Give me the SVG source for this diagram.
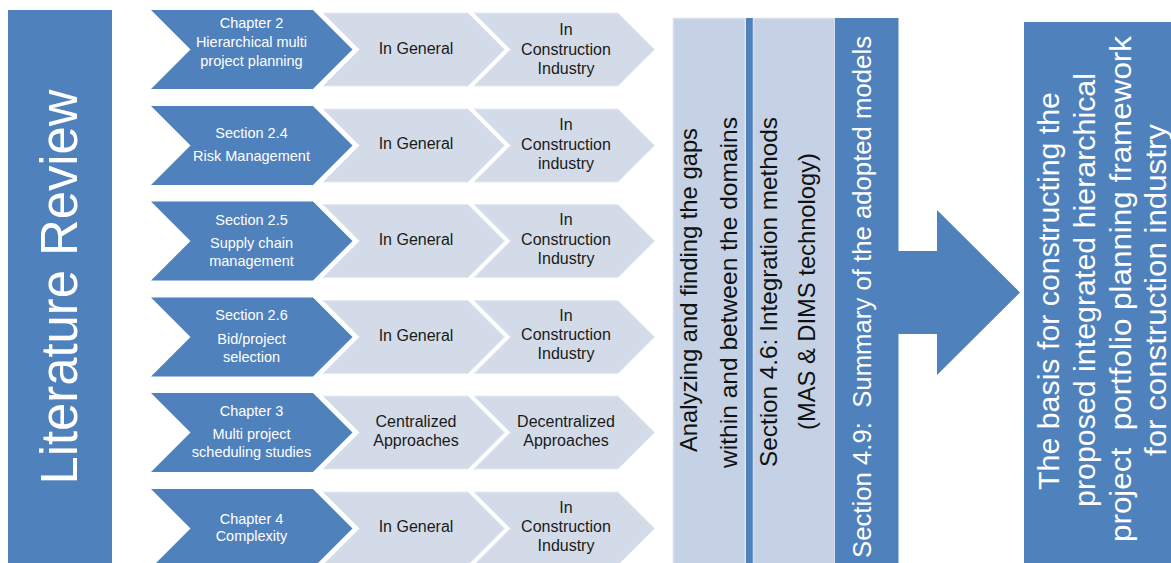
<svg xmlns="http://www.w3.org/2000/svg" xmlns:xlink="http://www.w3.org/1999/xlink" width="1171" height="563" viewBox="0 0 1171 563">
<style>
.blue{fill:#4F81BD}
.lite{fill:#D4DBE8;stroke:#E6EBF3;stroke-width:1}
.col{fill:#C5D1E4;stroke:#D6DEEB;stroke-width:1.5}
text{font-family:"Liberation Sans",Arial,sans-serif;text-anchor:middle}
.wt{fill:#FFFFFF;font-size:14.5px}
.dk{fill:#1A1A1A;font-size:16px}
.vt{fill:#111111;font-size:24px}
.vw{fill:#FFFFFF}
</style>
<defs>
<polygon id="chevB" points="151,0 313,0 352.5,39.5 313,79 151,79 190.5,39.5"/>
<polygon id="chevL1" points="323,3 468,3 504.5,39.5 468,76 323,76 359.5,39.5"/>
<polygon id="chevL2" points="474,3 618,3 654.5,39.5 618,76 474,76 510.5,39.5"/>
</defs>
<rect width="1171" height="563" fill="#FFFFFF"/>

<g id="literature-review">
<rect class="blue" x="8" y="10" width="104" height="560"/>
<text class="vw" font-size="51" transform="translate(77,287) rotate(-90)" textLength="395" lengthAdjust="spacingAndGlyphs">Literature Review</text>
</g>

<g id="row1">
<use xlink:href="#chevB" class="blue" transform="translate(0,10)"/>
<use xlink:href="#chevL1" class="lite" transform="translate(0,10)"/>
<use xlink:href="#chevL2" class="lite" transform="translate(0,10)"/>
<text class="wt" x="251.5" y="28">Chapter 2</text>
<text class="wt" x="251.5" y="47">Hierarchical multi</text>
<text class="wt" x="251.5" y="66">project planning</text>
<text class="dk" x="416" y="54">In General</text>
<text class="dk" x="566" y="35">In</text>
<text class="dk" x="566" y="55">Construction</text>
<text class="dk" x="566" y="74">Industry</text>
</g>

<g id="row2">
<use xlink:href="#chevB" class="blue" transform="translate(0,106)"/>
<use xlink:href="#chevL1" class="lite" transform="translate(0,106)"/>
<use xlink:href="#chevL2" class="lite" transform="translate(0,106)"/>
<text class="wt" x="251.5" y="138">Section 2.4</text>
<text class="wt" x="251.5" y="161">Risk Management</text>
<text class="dk" x="416" y="149">In General</text>
<text class="dk" x="566" y="130">In</text>
<text class="dk" x="566" y="150">Construction</text>
<text class="dk" x="566" y="169">industry</text>
</g>

<g id="row3">
<use xlink:href="#chevB" class="blue" transform="translate(0,201.5)"/>
<use xlink:href="#chevL1" class="lite" transform="translate(0,201.5)"/>
<use xlink:href="#chevL2" class="lite" transform="translate(0,201.5)"/>
<text class="wt" x="251.5" y="225">Section 2.5</text>
<text class="wt" x="251.5" y="248">Supply chain</text>
<text class="wt" x="251.5" y="266">management</text>
<text class="dk" x="416" y="245">In General</text>
<text class="dk" x="566" y="225">In</text>
<text class="dk" x="566" y="245">Construction</text>
<text class="dk" x="566" y="264">Industry</text>
</g>

<g id="row4">
<use xlink:href="#chevB" class="blue" transform="translate(0,297.5)"/>
<use xlink:href="#chevL1" class="lite" transform="translate(0,297.5)"/>
<use xlink:href="#chevL2" class="lite" transform="translate(0,297.5)"/>
<text class="wt" x="251.5" y="320">Section 2.6</text>
<text class="wt" x="251.5" y="344">Bid/project</text>
<text class="wt" x="251.5" y="362">selection</text>
<text class="dk" x="416" y="341">In General</text>
<text class="dk" x="566" y="321">In</text>
<text class="dk" x="566" y="340">Construction</text>
<text class="dk" x="566" y="359">Industry</text>
</g>

<g id="row5">
<use xlink:href="#chevB" class="blue" transform="translate(0,393)"/>
<use xlink:href="#chevL1" class="lite" transform="translate(0,393)"/>
<use xlink:href="#chevL2" class="lite" transform="translate(0,393)"/>
<text class="wt" x="251.5" y="416">Chapter 3</text>
<text class="wt" x="251.5" y="439">Multi project</text>
<text class="wt" x="251.5" y="457">scheduling studies</text>
<text class="dk" x="416" y="427">Centralized</text>
<text class="dk" x="416" y="446">Approaches</text>
<text class="dk" x="566" y="427">Decentralized</text>
<text class="dk" x="566" y="446">Approaches</text>
</g>

<g id="row6">
<use xlink:href="#chevB" class="blue" transform="translate(0,489)"/>
<use xlink:href="#chevL1" class="lite" transform="translate(0,489)"/>
<use xlink:href="#chevL2" class="lite" transform="translate(0,489)"/>
<text class="wt" x="251.5" y="524">Chapter 4</text>
<text class="wt" x="251.5" y="541">Complexity</text>
<text class="dk" x="416" y="532">In General</text>
<text class="dk" x="566" y="513">In</text>
<text class="dk" x="566" y="532">Construction</text>
<text class="dk" x="566" y="551">Industry</text>
</g>

<g id="gap-analysis">
<rect class="col" x="673.5" y="18.5" width="71.5" height="550"/>
<text class="vt" transform="translate(697,290) rotate(-90)" textLength="324" lengthAdjust="spacingAndGlyphs">Analyzing and finding the gaps</text>
<text class="vt" transform="translate(737,292.5) rotate(-90)" textLength="351" lengthAdjust="spacingAndGlyphs">within and between the domains</text>
</g>

<g id="separator">
<rect class="blue" x="746" y="18" width="7" height="550"/>
</g>

<g id="integration-methods">
<rect class="col" x="753.5" y="18.5" width="81.5" height="550"/>
<text class="vt" transform="translate(777,292) rotate(-90)" textLength="350" lengthAdjust="spacingAndGlyphs">Section 4.6: Integration methods</text>
<text class="vt" transform="translate(815,291.5) rotate(-90)" textLength="277" lengthAdjust="spacingAndGlyphs">(MAS &amp; DIMS technology)</text>
</g>

<g id="adopted-models">
<rect class="blue" x="835" y="18" width="63.5" height="550"/>
<text class="vw" font-size="26" xml:space="preserve" transform="translate(871,297) rotate(-90)" textLength="522" lengthAdjust="spacingAndGlyphs">Section 4.9:  Summary of the adopted models</text>
</g>

<g id="connectors">
<path class="blue" d="M897,251 H937 V210 L1020,292.5 L937,375 V334 H897 Z"/>
</g>

<g id="framework-basis">
<rect class="blue" x="1024" y="22" width="150" height="548"/>
<text class="vw" font-size="30" transform="translate(1059,291) rotate(-90)" textLength="398" lengthAdjust="spacingAndGlyphs">The basis for constructing the</text>
<text class="vw" font-size="30" transform="translate(1095,290) rotate(-90)" textLength="434" lengthAdjust="spacingAndGlyphs">proposed integrated hierarchical</text>
<text class="vw" font-size="30" xml:space="preserve" transform="translate(1131,289) rotate(-90)" textLength="506" lengthAdjust="spacingAndGlyphs">project  portfolio planning framework</text>
<text class="vw" font-size="30" transform="translate(1166,290) rotate(-90)" textLength="332" lengthAdjust="spacingAndGlyphs">for construction industry</text>
</g>
</svg>
